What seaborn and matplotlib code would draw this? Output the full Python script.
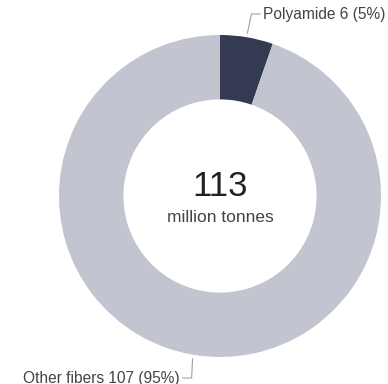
import matplotlib

matplotlib.use("Agg")
import matplotlib.pyplot as plt
import numpy as np
import seaborn as sns

# data
labels = ["Polyamide 6", "Other fibers"]
values = [6, 107]
shares = ["5%", "95%"]
total = "113"
unit = "million tonnes"
colors = ["#343a52", "#c2c4cf"]

sns.set_theme(style="white")
plt.rcParams["font.family"] = ["Liberation Sans", "DejaVu Sans"]
text_color = "#444444"

fig = plt.figure(figsize=(3.88, 3.84), dpi=100)
ax = fig.add_axes([0, 0, 1, 1])

cx, cy, r = 220, 188, 161
wedges, _ = ax.pie(
    values,
    colors=colors,
    startangle=90,
    counterclock=False,
    center=(cx, cy),
    radius=r,
    wedgeprops=dict(width=r * 0.4, edgecolor="none", linewidth=0),
    frame=True,
)
ax.set_xlim(0, 388)
ax.set_ylim(0, 384)
ax.set_aspect("equal")
ax.axis("off")

ax.text(cx, cy + 9, total, ha="center", va="center", fontsize=25, color="#222222")
ax.text(cx, cy - 22, unit, ha="center", va="center", fontsize=12.5, color=text_color)

# leader lines from wedge middles
line_kw = dict(color="#a0a0a0", lw=0.8)
for i, w in enumerate(wedges):
    mid = np.deg2rad((w.theta1 + w.theta2) / 2)
    x0 = cx + (r + 4) * np.cos(mid)
    y0 = cy + (r + 4) * np.sin(mid)
    if i == 0:
        x1, y1 = x0 + 4, 370
        x2 = x1 + 9
        ax.plot([x0, x1, x2], [y0, y1, y1], **line_kw)
        ax.text(x2 + 3, y1, f"{labels[i]} ({shares[i]})", ha="left", va="center",
                fontsize=11.2, color=text_color)
    else:
        x1, y1 = x0 - 1, 6
        x2 = x1 - 9
        ax.plot([x0, x1, x2], [y0, y1, y1], **line_kw)
        ax.text(x2 - 3, y1, f"{labels[i]} {values[i]} ({shares[i]})", ha="right",
                va="center", fontsize=11.2, color=text_color)

fig.savefig("out.png", dpi=100)
